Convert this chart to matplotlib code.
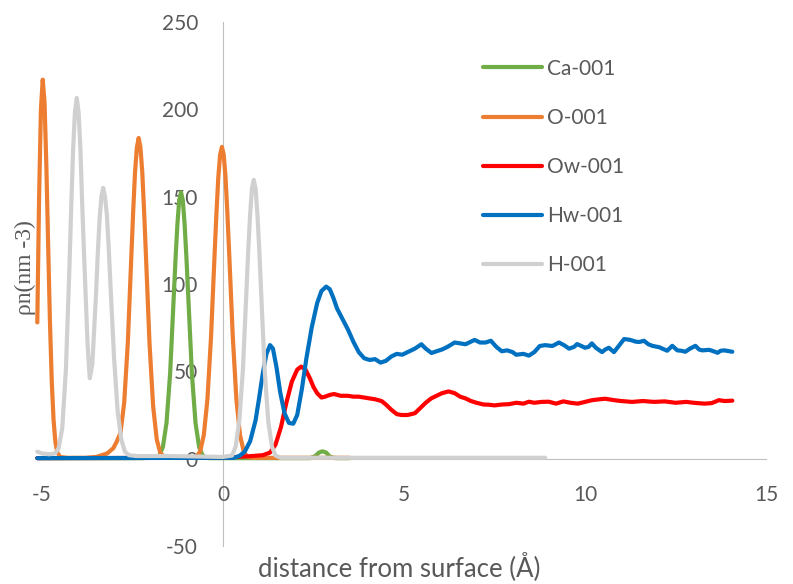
import numpy as np
import matplotlib.pyplot as plt

# Density profiles (x in Angstrom, rho in nm^-3)
ca_x = [-5.13, -2.2, -1.9, -1.76, -1.66, -1.56, -1.46, -1.36, -1.31, -1.26, -1.21, -1.16,
        -1.11, -1.06, -1.01, -0.96, -0.86, -0.76, -0.66, -0.56, -0.4, 2.4, 2.55, 2.65, 2.75,
        2.85, 2.95, 3.1, 3.5]
ca_y = [0.3, 0.3, 1, 1.7, 6.7, 20.6, 49, 93, 115, 134, 148, 152.5,
        148, 134, 115, 93, 49, 20.6, 6.7, 1.7, 0.3, 0.3, 1.5, 3.5, 4.2,
        3.5, 1.2, 0.3, 0.3]

o_x = [-5.13, -5.08, -5.03, -4.98, -4.93, -4.88, -4.83, -4.78, -4.73, -4.68, -4.63, -4.58,
       -4.5, -4.3, -3.8, -3.5, -3.2, -3.03, -2.93, -2.83, -2.73, -2.63, -2.53, -2.48, -2.43,
       -2.38, -2.33, -2.28, -2.23, -2.18, -2.13, -2.03, -1.93, -1.83, -1.73, -1.6, -1.3,
       -1.0, -0.8, -0.73, -0.63, -0.53, -0.43, -0.33, -0.23, -0.18, -0.13, -0.08, -0.03,
       0.02, 0.07, 0.12, 0.17, 0.27, 0.37, 0.47, 0.57, 0.67, 0.8, 1.2, 2.0, 3.5]
o_y = [78, 150, 200, 217, 204, 168, 122, 78, 44, 22, 9.5, 3.7,
       1, 0.5, 0.5, 1, 3, 6, 10, 15, 32, 66, 117, 142, 164,
       178, 183.6, 178, 164, 142, 117, 66, 30, 11, 3, 1, 0.5,
       0.5, 0.5, 1.1, 4.3, 13.5, 34, 70, 118, 141, 161, 174, 178.5,
       174, 161, 141, 118, 70, 34, 13.5, 4.3, 1.1, 0.5, 0.5, 0.5, 0.5]

ow_x = [-5.13, 0.0, 0.4, 0.8, 1.1, 1.3, 1.45, 1.6, 1.75, 1.9, 2.05, 2.16, 2.28, 2.4, 2.5,
        2.6, 2.72, 2.82, 2.95, 3.07, 3.25, 3.45, 3.6, 3.75, 3.9, 4.05, 4.2, 4.38, 4.5, 4.65,
        4.8, 4.93, 5.1, 5.3, 5.45, 5.6, 5.75, 5.9, 6.05, 6.23, 6.4, 6.55, 6.7, 6.85, 7.0,
        7.2, 7.34, 7.5, 7.7, 7.9, 8.1, 8.3, 8.45, 8.6, 8.8, 9.0, 9.2, 9.4, 9.6, 9.8, 10.0,
        10.2, 10.4, 10.56, 10.8, 11.0, 11.3, 11.6, 11.9, 12.2, 12.5, 12.8, 13.0, 13.3, 13.5,
        13.7, 13.85, 14.07]
ow_y = [0.3, 0.5, 1, 1.5, 2, 3.5, 8, 18, 32, 44, 51, 52.7, 51, 46, 41,
        37.5, 35, 35.5, 36.5, 37, 36, 36, 35.5, 35.5, 35, 34.5, 34, 33, 31, 28,
        25.5, 25, 25, 26, 29, 32, 34.5, 36, 37.5, 38.5, 37.5, 35.5, 34.5, 33, 32,
        31, 30.9, 30.5, 31, 31.2, 32, 31.5, 32.6, 32, 32.5, 32.6, 31.5, 32.8, 32, 31.5, 32.5,
        33.5, 34, 34.3, 33.5, 33, 32.5, 33, 32.5, 32.8, 32, 32.5, 32, 31.5, 31.8,
        33.5, 33, 33.2]

hw_x = [-5.13, 0.3, 0.45, 0.6, 0.75, 0.9, 1.0, 1.1, 1.2, 1.3, 1.38, 1.48, 1.58, 1.7, 1.82,
        1.94, 2.05, 2.18, 2.3, 2.45, 2.6, 2.72, 2.85, 2.95, 3.05, 3.15, 3.3, 3.45, 3.6, 3.75,
        3.9, 4.05, 4.2, 4.35, 4.5, 4.65, 4.8, 4.95, 5.1, 5.3, 5.48, 5.6, 5.76, 5.9, 6.05,
        6.2, 6.4, 6.55, 6.7, 6.85, 6.95, 7.1, 7.25, 7.4, 7.55, 7.7, 7.85, 8.0, 8.1, 8.3,
        8.45, 8.6, 8.75, 8.9, 9.1, 9.28, 9.42, 9.56, 9.7, 9.78, 9.9, 10.0, 10.1, 10.19, 10.3,
        10.47, 10.56, 10.66, 10.8, 10.95, 11.08, 11.25, 11.4, 11.5, 11.63, 11.75, 11.86, 12.05,
        12.27, 12.41, 12.55, 12.66, 12.77, 12.9, 13.05, 13.15, 13.24, 13.43, 13.55, 13.66,
        13.75, 13.85, 14.07]
hw_y = [0.3, 0.5, 1.5, 4, 10, 22, 35, 49, 60, 65, 63, 52, 38, 26, 20.5,
        20, 25, 40, 57, 75, 89, 96, 98.5, 97, 92, 86, 80, 74, 67, 61,
        57.5, 56.5, 57, 55, 56, 58.5, 60, 59.5, 61, 63, 65.5, 63, 60.5, 61.5, 62.5,
        64, 66.5, 66, 65.5, 67, 68, 66.5, 66.5, 67.5, 64, 61.5, 62, 61, 59.5, 60,
        59, 61, 64.5, 65, 64.5, 66.5, 65, 63, 64, 65.6, 64.5, 63.5, 64, 66, 63.5,
        61, 62.5, 63.5, 61, 65, 68.5, 68, 67, 66.8, 67.5, 65.5, 64.6, 63.8,
        61.8, 64.6, 62, 61.8, 61.2, 63, 64.6, 62.5, 62, 62.3, 61.5, 60.6,
        61.8, 62, 61.2]

h_x = [-5.13, -5.0, -4.8, -4.64, -4.54, -4.44, -4.34, -4.24, -4.19, -4.14, -4.09, -4.04,
       -3.99, -3.94, -3.89, -3.84, -3.74, -3.68, -3.61, -3.51, -3.46, -3.41, -3.36, -3.31,
       -3.26, -3.21, -3.16, -3.11, -3.01, -2.91, -2.81, -2.71, -2.6, -2.4, -1.5, 0.0, 0.25,
       0.35, 0.45, 0.55, 0.65, 0.7, 0.75, 0.8, 0.85, 0.9, 0.95, 1.0, 1.05, 1.15, 1.25,
       1.35, 1.45, 1.6, 8.9]
h_y = [4, 3, 2.5, 3, 6, 17.5, 51, 111, 146, 177, 198.5, 206.5,
       198.5, 178, 146, 118, 65, 46, 54, 93, 117, 137, 150, 155,
       150, 140, 122, 100, 58, 27, 11, 4, 2, 1.5, 1.5, 1, 1.8,
       7, 21.5, 51, 97, 120.5, 140, 154.7, 159.6, 154.7, 140, 120.5, 97, 51, 21.5,
       7, 1.8, 0.5, 0.5]

series = [
    ('Ca-001', ca_x, ca_y, '#70AD47'),
    ('O-001', o_x, o_y, '#ED7D31'),
    ('Ow-001', ow_x, ow_y, '#FF0000'),
    ('Hw-001', hw_x, hw_y, '#0070C0'),
    ('H-001', h_x, h_y, '#D0D0D0'),
]

x_ticks = [-5, 0, 5, 10, 15]
y_ticks = [-50, 0, 50, 100, 150, 200, 250]

fig = plt.figure(figsize=(7.93, 5.84), dpi=100)
ax = fig.add_axes([42 / 793, 38 / 584, 724 / 793, 524 / 584])

for name, xs, ys, col in series:
    ax.plot(xs, ys, color=col, lw=3, label=name, solid_capstyle='round',
            solid_joinstyle='round', clip_on=False)

ax.set_xlim(-5, 15)
ax.set_ylim(-50, 250)

# axes cross at the origin, like the spreadsheet chart
for side in ['top', 'right']:
    ax.spines[side].set_visible(False)
ax.spines['left'].set_position(('data', 0))
ax.spines['bottom'].set_position(('data', 0))
ax.spines['left'].set_color('#BFBFBF')
ax.spines['bottom'].set_color('#BFBFBF')
ax.spines['left'].set_zorder(0)
ax.spines['bottom'].set_zorder(0)

tick_font = {'family': 'Lato', 'size': 15, 'color': '#595959'}
ax.set_xticks(x_ticks)
ax.set_yticks(y_ticks)
ax.set_xticklabels([str(v) for v in x_ticks], **tick_font)
ax.set_yticklabels([str(v) for v in y_ticks], **tick_font)
ax.tick_params(axis='x', length=0, pad=19)
ax.tick_params(axis='y', length=0, pad=18)

fig.text(399 / 793, 1 - 567 / 584, 'distance from surface (Å)', ha='center',
         va='center', family='Lato', size=18.5, color='#595959')
fig.text(0.032, 1 - 268 / 584, 'ρn(nm -3)', ha='center', va='center', rotation=90,
         family='Liberation Serif', size=17, color='#595959')

leg = ax.legend(loc='upper left', bbox_to_anchor=(464 / 793, 1 - 40 / 584),
                bbox_transform=fig.transFigure, frameon=False, handlelength=2.85,
                handletextpad=0.25, labelspacing=1.4,
                prop={'family': 'Lato', 'size': 15})
for t in leg.get_texts():
    t.set_color('#595959')

plt.savefig('out.png', dpi=100)
